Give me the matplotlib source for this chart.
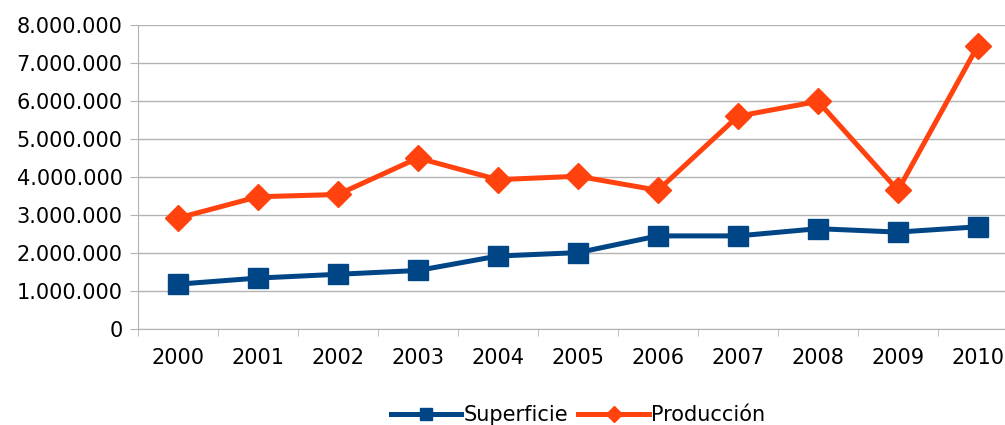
import matplotlib.pyplot as plt
from matplotlib.ticker import FuncFormatter, FixedLocator

years = ["2000", "2001", "2002", "2003", "2004", "2005", "2006", "2007", "2008", "2009", "2010"]
superficie = [1180000, 1340000, 1440000, 1540000, 1920000, 2010000, 2450000, 2450000, 2640000, 2550000, 2690000]
produccion = [2920000, 3480000, 3540000, 4500000, 3930000, 4020000, 3650000, 5600000, 5990000, 3650000, 7460000]

blue = "#004586"
orange = "#ff420e"

plt.rcParams['font.family'] = ['DejaVu Sans']

fig = plt.figure(figsize=(10.05, 4.25), dpi=100)
ax = fig.add_axes([138 / 1005, 96 / 425, 880 / 1005, 304 / 425])

x = list(range(len(years)))
ax.plot(x, superficie, color=blue, lw=3.6, marker="s", ms=15, label="Superficie", zorder=3)
ax.plot(x, produccion, color=orange, lw=3.6, marker="D", ms=13.5, label="Producción", zorder=3)

ax.set_xlim(-0.5, len(years) - 0.5)
ax.set_ylim(0, 8000000)
ax.set_yticks(range(0, 8000001, 1000000))
ax.yaxis.set_major_formatter(FuncFormatter(lambda v, p: f"{int(v):,}".replace(",", ".")))
ax.set_xticks(x)
ax.set_xticklabels(years)
ax.xaxis.set_minor_locator(FixedLocator([i - 0.5 for i in range(len(years) + 1)]))
ax.tick_params(axis="x", which="major", length=0, pad=14, labelsize=15)
ax.tick_params(axis="x", which="minor", length=5, color="#b3b3b3")
ax.tick_params(axis="y", length=6, color="#b3b3b3", labelsize=15, pad=5)

ax.grid(axis="y", color="#b3b3b3", lw=1)
ax.set_axisbelow(True)
for s in ["top", "right"]:
    ax.spines[s].set_visible(False)
for s in ["left", "bottom"]:
    ax.spines[s].set_color("#b3b3b3")

ax.legend(loc="upper center", bbox_to_anchor=(440 / 880, -0.21), ncol=2, frameon=False,
          fontsize=15, handlelength=3.4, markerscale=0.6, columnspacing=0.5,
          handletextpad=0.1, borderaxespad=0.2)

fig.savefig("out.png", dpi=100)
